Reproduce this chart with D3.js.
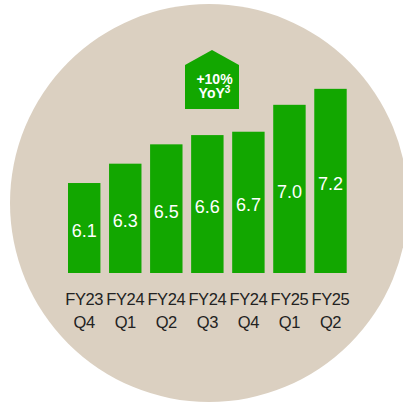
<!DOCTYPE html>
<html>
<head>
  <meta charset="utf-8">
  <title>Quarterly bars</title>
  <script src="https://d3js.org/d3.v7.min.js"></script>
  <style>
    body { margin: 0; overflow: hidden; background: #fff; }
    svg { display: block; }
    text { font-family: "Liberation Sans", Arial, Helvetica, sans-serif; }
  </style>
</head>
<body>
  <svg width="403" height="403"></svg>

  <script>
    // data
    const fiscalYears = ["FY23", "FY24", "FY24", "FY24", "FY24", "FY25", "FY25"];
    const quarters = ["Q4", "Q1", "Q2", "Q3", "Q4", "Q1", "Q2"];
    const values = [6.07, 6.3, 6.53, 6.64, 6.68, 7.0, 7.19];
    const badgeLines = ["+10%", "YoY"];

    const svg = d3.select("svg");

    // beige disc behind everything
    svg.append("circle")
      .attr("cx", 209)
      .attr("cy", 203)
      .attr("r", 199)
      .attr("fill", "#dbd0c1");

    const idx = d3.range(values.length);

    const x = d3.scaleBand()
      .domain(idx)
      .range([68, 346.7])
      .paddingInner(0.21)
      .paddingOuter(0);

    // bars start from a truncated baseline
    const y = d3.scaleLinear()
      .domain([5, 7.2])
      .range([273, 88]);

    const g = svg.append("g");

    g.selectAll("rect.bar")
      .data(idx)
      .join("rect")
      .attr("class", "bar")
      .attr("x", i => x(i))
      .attr("y", i => y(values[i]))
      .attr("width", x.bandwidth())
      .attr("height", i => y.range()[0] - y(values[i]))
      .attr("fill", "#12a700");

    // value labels in the middle of each bar
    g.selectAll("text.val")
      .data(idx)
      .join("text")
      .attr("class", "val")
      .attr("x", i => x(i) + x.bandwidth() / 2)
      .attr("y", i => (y(values[i]) + y.range()[0]) / 2 + 9)
      .attr("text-anchor", "middle")
      .attr("fill", "#fff")
      .attr("font-size", 18)
      .text(i => d3.format(".1f")(values[i]));

    // category labels, two lines
    const lab = g.selectAll("text.cat")
      .data(idx)
      .join("text")
      .attr("class", "cat")
      .attr("text-anchor", "middle")
      .attr("fill", "#222")
      .attr("font-size", 16.5)
      .attr("letter-spacing", -0.4);

    lab.append("tspan")
      .attr("x", i => x(i) + x.bandwidth() / 2)
      .attr("y", 305)
      .text(i => fiscalYears[i]);

    lab.append("tspan")
      .attr("x", i => x(i) + x.bandwidth() / 2)
      .attr("y", 328)
      .text(i => quarters[i]);

    // growth badge (house shape)
    const bx = 185, bw = 54, peakY = 50, shoulderY = 65, baseY = 109;
    svg.append("path")
      .attr("d", `M${bx},${shoulderY} L${bx + bw / 2},${peakY} L${bx + bw},${shoulderY} L${bx + bw},${baseY} L${bx},${baseY} Z`)
      .attr("fill", "#12a700");

    svg.append("text")
      .attr("x", 214.5)
      .attr("y", 83.5)
      .attr("text-anchor", "middle")
      .attr("fill", "#fff")
      .attr("font-size", 14)
      .attr("font-weight", "bold")
      .text(badgeLines[0]);

    const yoy = svg.append("text")
      .attr("x", 214.5)
      .attr("y", 97.5)
      .attr("text-anchor", "middle")
      .attr("fill", "#fff")
      .attr("font-size", 14)
      .attr("font-weight", "bold");
    yoy.append("tspan").text(badgeLines[1]);
    yoy.append("tspan")
      .attr("dy", -5)
      .attr("font-size", 10)
      .text("3");
  </script>
</body>
</html>
